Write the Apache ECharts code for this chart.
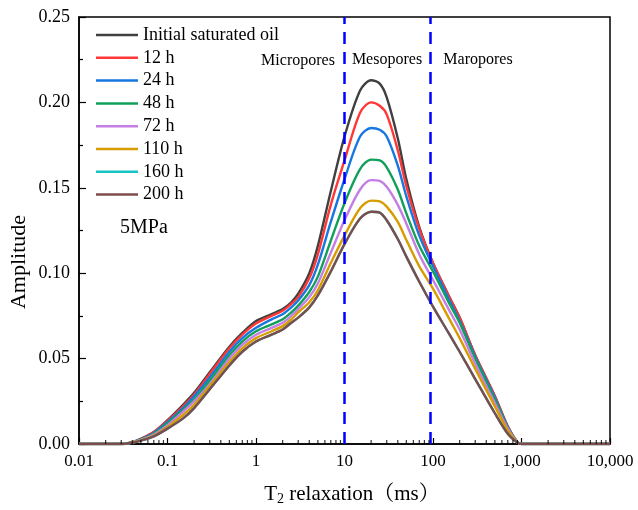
<!DOCTYPE html>
<html>
<head>
<meta charset="utf-8">
<script src="https://cdn.jsdelivr.net/npm/echarts@6/dist/echarts.min.js"></script>
<style>
html,body{margin:0;padding:0;background:#fff;}
#main{width:638px;height:510px;}
</style>
</head>
<body>
<div id="main"></div>
<script>
// T2 relaxation time (ms)
var t2 = [0.01,0.02,0.03,0.04,0.05,0.07,0.1,0.15,0.2,0.3,0.5,0.7,1,1.5,2,2.5,3,4,5,7,10,15,20,25,30,40,50,70,100,150,200,300,500,700,900,1000,2000,5000,10000];

var names = ['Initial saturated oil','12 h','24 h','48 h','72 h','110 h','160 h','200 h'];
var colors = ['#404040','#ff3737','#1677e0','#10a05a','#c47ee4','#d79c00','#17c4c4','#7e4c4c'];

var initOil = [0,0,0,0.001,0.003,0.007,0.014,0.023,0.030,0.042,0.057,0.065,0.072,0.076,0.079,0.083,0.088,0.100,0.116,0.148,0.180,0.207,0.213,0.211,0.203,0.179,0.155,0.127,0.106,0.087,0.074,0.052,0.028,0.010,0.001,0,0,0,0];
var h12 = [0,0,0,0.001,0.003,0.007,0.0135,0.022,0.029,0.041,0.056,0.064,0.0705,0.075,0.078,0.082,0.086,0.097,0.111,0.140,0.166,0.194,0.200,0.198,0.193,0.172,0.151,0.126,0.106,0.087,0.074,0.052,0.028,0.0105,0.001,0,0,0,0];
var h24 = [0,0,0,0.001,0.0028,0.0065,0.0128,0.021,0.028,0.039,0.054,0.062,0.068,0.073,0.076,0.080,0.084,0.093,0.105,0.130,0.155,0.180,0.185,0.184,0.180,0.163,0.145,0.122,0.104,0.085,0.072,0.051,0.027,0.010,0.001,0,0,0,0];
var h48 = [0,0,0,0.001,0.0026,0.006,0.012,0.020,0.026,0.037,0.052,0.060,0.066,0.070,0.073,0.077,0.081,0.089,0.098,0.119,0.141,0.161,0.1665,0.166,0.162,0.149,0.135,0.116,0.101,0.083,0.071,0.050,0.026,0.0095,0.001,0,0,0,0];
var h72 = [0,0,0,0.001,0.0024,0.0055,0.011,0.019,0.025,0.035,0.050,0.058,0.064,0.068,0.071,0.075,0.079,0.086,0.094,0.112,0.131,0.149,0.1545,0.154,0.1506,0.140,0.129,0.111,0.096,0.079,0.067,0.047,0.024,0.009,0.001,0,0,0,0];
var h110 = [0,0,0,0.001,0.0022,0.005,0.010,0.017,0.023,0.034,0.048,0.056,0.062,0.066,0.069,0.073,0.077,0.083,0.090,0.106,0.122,0.138,0.1425,0.142,0.139,0.130,0.1194,0.104,0.091,0.074,0.062,0.044,0.022,0.008,0.001,0,0,0,0];
var h160 = [0,0,0,0.0008,0.002,0.0045,0.009,0.015,0.021,0.032,0.046,0.054,0.060,0.064,0.067,0.071,0.074,0.080,0.087,0.101,0.117,0.132,0.136,0.1355,0.131,0.120,0.1097,0.095,0.0804,0.065,0.054,0.038,0.018,0.006,0.0008,0,0,0,0];
var h200 = [0,0,0,0.0008,0.002,0.0045,0.009,0.015,0.021,0.032,0.046,0.054,0.060,0.064,0.067,0.071,0.074,0.080,0.087,0.101,0.117,0.132,0.136,0.1355,0.131,0.120,0.1097,0.095,0.0804,0.065,0.054,0.038,0.018,0.006,0.0008,0,0,0,0];
var allSeries = [initOil,h12,h24,h48,h72,h110,h160,h200];

// pore boundaries (ms)
var boundaries = [9.9, 94];
// minor ticks on the log axis
var minorTicks = [];
[0.01,0.1,1,10,100,1000].forEach(function (d) {
    for (var k = 2; k <= 9; k++) minorTicks.push(+(d * k).toPrecision(3));
});
var xTickLabels = {'0.01':'0.01','0.1':'0.1','1':'1','10':'10','100':'100','1000':'1,000','10000':'10,000'};

var serif = "'Times New Roman','Liberation Serif','Noto Serif CJK SC',serif";

function pairs(ys) {
    var out = [];
    for (var i = 0; i < t2.length; i++) out.push([t2[i], ys[i]]);
    return out;
}

var series = [];
for (var i = 0; i < names.length; i++) {
    series.push({
        name: names[i],
        type: 'line',
        data: pairs(allSeries[i]),
        smooth: 0.3,
        symbol: 'none',
        lineStyle: {width: 2.4, color: colors[i]},
        itemStyle: {color: colors[i]},
        z: 3
    });
}
// dashed boundaries
series[0].markLine = {
    silent: true,
    symbol: 'none',
    label: {show: false},
    lineStyle: {color: '#0000ff', type: [12, 8], width: 2.5},
    data: boundaries.map(function (b) { return {xAxis: b}; })
};
// minor x ticks
series.push({
    type: 'scatter',
    silent: true,
    data: minorTicks.map(function (v) { return [v, 0]; }),
    symbol: 'rect',
    symbolSize: [1.2, 4],
    symbolOffset: [0, -2],
    itemStyle: {color: '#000'},
    z: 5
});

var myChart = echarts.init(document.getElementById('main'));
var option = {
    animation: false,
    backgroundColor: '#fff',
    grid: {
        left: 79, right: 28, top: 17, bottom: 66,
        show: true, borderColor: '#000', borderWidth: 1.5
    },
    legend: {
        data: names,
        orient: 'vertical',
        left: 96,
        top: 26,
        padding: 0,
        icon: 'rect',
        itemWidth: 42,
        itemHeight: 2.5,
        itemGap: 4.8,
        textStyle: {fontFamily: serif, fontSize: 18, color: '#000'}
    },
    xAxis: {
        type: 'log',
        logBase: 10,
        min: 0.01,
        max: 10000,
        axisLine: {lineStyle: {color: '#000', width: 1.5}},
        axisTick: {inside: true, length: 6, lineStyle: {color: '#000', width: 1.2}},
        splitLine: {show: false},
        axisLabel: {
            fontFamily: serif, fontSize: 17, color: '#000', margin: 9,
            formatter: function (v) { return xTickLabels[String(+v.toPrecision(3))] || ''; }
        }
    },
    yAxis: {
        type: 'value',
        min: 0,
        max: 0.25,
        interval: 0.05,
        axisLine: {show: true, lineStyle: {color: '#000', width: 1.5}},
        axisTick: {show: true, inside: true, length: 7, lineStyle: {color: '#000', width: 1.2}},
        minorTick: {show: true, splitNumber: 2, length: 4, lineStyle: {color: '#000', width: 1.2}},
        splitLine: {show: false},
        axisLabel: {
            fontFamily: serif, fontSize: 18, color: '#000', margin: 9,
            formatter: function (v) { return v.toFixed(2); }
        }
    },
    graphic: [
        {type: 'text', left: 120, top: 218, style: {text: '5MPa', font: '20px ' + serif, fill: '#000'}},
        {type: 'text', x: 298, y: 61, style: {text: 'Micropores', font: '16px ' + serif, fill: '#000', align: 'center', verticalAlign: 'middle'}},
        {type: 'text', x: 387, y: 60, style: {text: 'Mesopores', font: '16px ' + serif, fill: '#000', align: 'center', verticalAlign: 'middle'}},
        {type: 'text', x: 478, y: 60, style: {text: 'Maropores', font: '16px ' + serif, fill: '#000', align: 'center', verticalAlign: 'middle'}},
        {type: 'text', x: 19, y: 262, rotation: Math.PI / 2, style: {text: 'Amplitude', font: '22px ' + serif, fill: '#000', align: 'center', verticalAlign: 'middle'}},
        {type: 'text', x: 352, y: 494, style: {
            text: '{n|T}{s|2}{n| relaxation（ms）}',
            align: 'center', verticalAlign: 'middle',
            rich: {
                n: {fontFamily: serif, fontSize: 21, fill: '#000'},
                s: {fontFamily: serif, fontSize: 14, fill: '#000', padding: [10, 0, 0, 0]}
            }
        }}
    ],
    series: series
};
myChart.setOption(option);
</script>
</body>
</html>
